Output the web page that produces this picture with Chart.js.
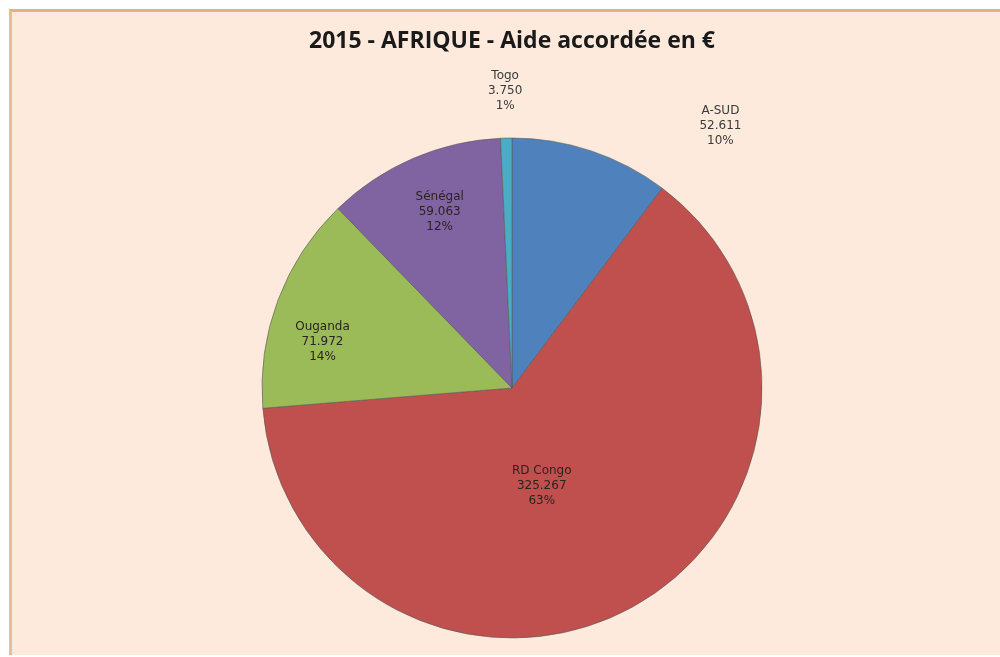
<!DOCTYPE html>
<html>
<head>
<meta charset="utf-8">
<script src="https://cdn.jsdelivr.net/npm/chart.js@4"></script>
<style>
  html,body{margin:0;padding:0;background:#fff;}
  #frame{position:absolute;left:9px;top:9px;width:1000px;height:643px;background:#fdeadc;
    border-left:3px solid #ebbd95;border-top:3px solid #e2b08a;}
  #wrap{position:absolute;left:0;top:0;width:1000px;height:657px;}
</style>
</head>
<body>
<div id="frame"></div>
<div id="wrap"><canvas id="chart" width="1000" height="657"></canvas></div>
<script>
// --- Data ---
const countries = ["A-SUD","RD Congo","Ouganda","Sénégal","Togo"];
const amounts   = [52611, 325267, 71972, 59063, 3750];
const colors    = ["#4f81bd","#c0504d","#9bbb59","#8064a2","#4bacc6"];

// label placement: angle shift from slice middle (deg) and distance as share of radius
const labelShift  = [20, 12, -7, 1, 0];
const labelRadius = [1.34, 0.41, 0.78, 0.76, 1.19];

const total = amounts.reduce((a,b)=>a+b,0);
const fmt = v => String(v).replace(/\B(?=(\d{3})+(?!\d))/g,".");

// --- Data labels ---
const sliceLabels = {
  id:'sliceLabels',
  afterDatasetsDraw(chart){
    const ctx = chart.ctx;
    const arcs = chart.getDatasetMeta(0).data;
    ctx.save();
    ctx.font = '12px "DejaVu Sans", Verdana, sans-serif';
    ctx.textAlign = 'center';
    ctx.textBaseline = 'middle';
    arcs.forEach((arc,i)=>{
      const {x,y,startAngle,endAngle,outerRadius} = arc.getProps(['x','y','startAngle','endAngle','outerRadius'],true);
      const a = (startAngle+endAngle)/2 + labelShift[i]*Math.PI/180;
      const r = outerRadius*labelRadius[i];
      const cx = x + Math.cos(a)*r, cy = y + Math.sin(a)*r;
      const pct = Math.round(amounts[i]/total*100) + "%";
      ctx.fillStyle = labelRadius[i] > 1 ? '#3a3a3a' : '#2a2320';
      [countries[i], fmt(amounts[i]), pct].forEach((t,k)=>ctx.fillText(t, cx, cy + (k-1)*15));
    });
    ctx.restore();
  }
};

new Chart(document.getElementById('chart'),{
  type:'pie',
  data:{
    labels:countries,
    datasets:[{data:amounts, backgroundColor:colors, borderColor:'rgba(90,90,90,0.6)', borderWidth:1}]
  },
  options:{
    responsive:false,
    animation:false,
    layout:{padding:{top:10,bottom:18.5,left:100,right:76}},
    plugins:{
      legend:{display:false},
      tooltip:{enabled:false},
      title:{display:true, text:'2015 - AFRIQUE - Aide accordée en €', color:'#1a1a1a',
        font:{family:'"Open Sans", "Liberation Sans", sans-serif', size:23, weight:'bold'},
        padding:{top:18,bottom:81.9}}
    }
  },
  plugins:[sliceLabels]
});
</script>
</body>
</html>
